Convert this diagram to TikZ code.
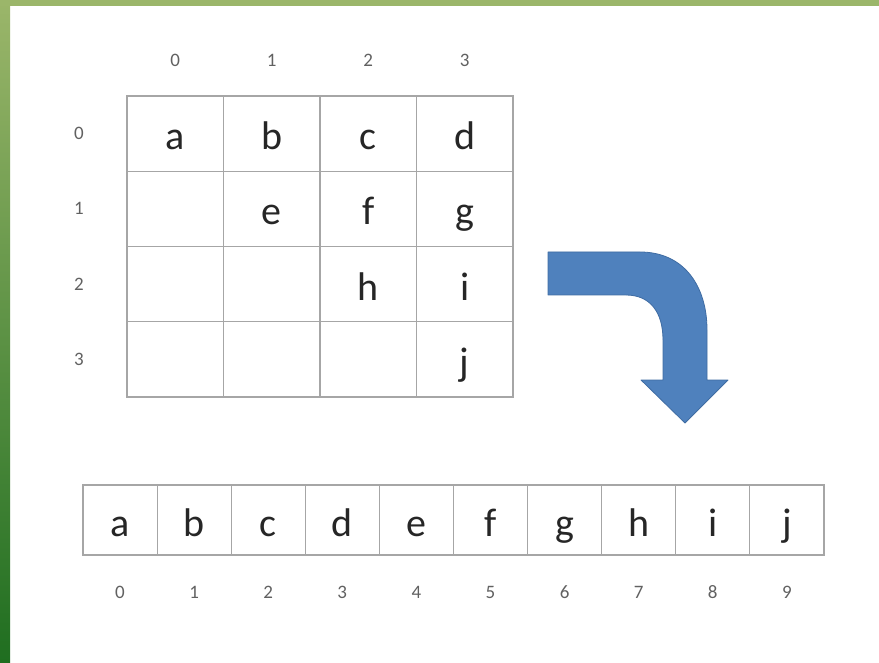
\documentclass[tikz,border=0pt]{standalone}
\usepackage{fontspec}
\setmainfont{Carlito}
\usepackage{xcolor}
\definecolor{barlight}{HTML}{9BB66A}
\definecolor{bardark}{HTML}{1F6E20}
\definecolor{gridgray}{HTML}{A6A6A6}
\definecolor{arrowblue}{HTML}{4F81BD}
\definecolor{arrowedge}{HTML}{3F6CA3}

\begin{document}
\begin{tikzpicture}[x=1pt,y=-1pt,
  cell/.style={draw=gridgray,line width=1.1pt,inner sep=0pt,
    text height=40pt,text depth=8pt,
    font=\fontsize{40}{48}\selectfont,text=black!85},
  mcell/.style={cell,minimum width=96.5pt,minimum height=75.25pt},
  acell/.style={cell,minimum width=74.1pt,minimum height=70pt},
  idx/.style={font=\fontsize{19}{22}\selectfont,text=black!62}]
\useasboundingbox (0,0) rectangle (879,663);
\fill[white] (0,0) rectangle (879,663);
% green frame
\shade[top color=barlight,bottom color=bardark] (0,0) rectangle (10,663);
\fill[barlight] (0,0) rectangle (879,6);
% 2D array
\foreach \r/\row in {0/{a,b,c,d},1/{,e,f,g},2/{,,h,i},3/{,,,j}}{
  \foreach \t [count=\c from 0] in \row{
    \node[mcell] (m\r\c) at ({175.25+96.5*\c},{133.6+75.25*\r}) {\t};}}
\foreach \i in {0,...,3}{
  \node[idx] (col\i) at ({175.25+96.5*\i},60) {\i};
  \node[idx] (row\i) at (79,{133.6+75.25*\i}) {\i};}
% 1D array
\foreach \t [count=\i from 0] in {a,b,c,d,e,f,g,h,i,j}{
  \node[acell] (v\i) at ({120+74.1*\i},520) {\t};
  \node[idx] (vi\i) at ({120+74.1*\i},592) {\i};}
% bent arrow
\draw[fill=arrowblue,draw=arrowedge,line width=0.8pt,line join=round]
  (548,252) -- (640,252) .. controls (684,252) and (707,286) .. (707,330)
  -- (707,380) -- (728,380) -- (685,423) -- (641,380) -- (663,380)
  -- (663,340) .. controls (663,312) and (650,295) .. (626,295)
  -- (548,295) -- cycle;
\end{tikzpicture}
\end{document}
